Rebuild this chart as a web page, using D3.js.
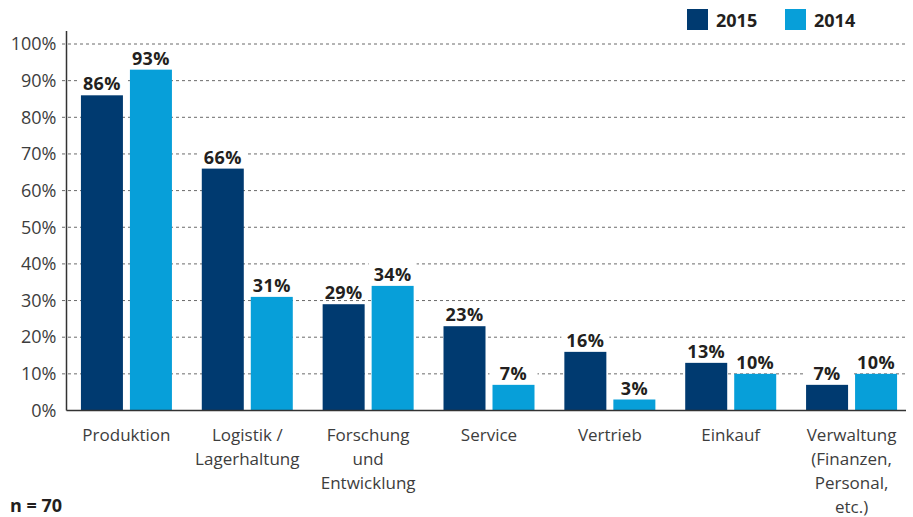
<!DOCTYPE html>
<html>
<head>
<meta charset="utf-8">
<script src="https://cdn.jsdelivr.net/npm/d3@7"></script>
<style>
  body { margin: 0; background: #fff; }
  svg { display: block; font-family: "Open Sans", sans-serif; }
</style>
</head>
<body>
<svg width="913" height="517"></svg>
<script>
const categories = ["Produktion", "Logistik /\nLagerhaltung", "Forschung\nund\nEntwicklung", "Service",
                    "Vertrieb", "Einkauf", "Verwaltung\n(Finanzen,\nPersonal,\netc.)"];
const years = ["2015", "2014"];
const values2015 = [86, 66, 29, 23, 16, 13, 7];
const values2014 = [93, 31, 34, 7, 3, 10, 10];
const yTicks = [0, 10, 20, 30, 40, 50, 60, 70, 80, 90, 100];
const sampleNote = "n = 70";

const colors = {"2015": "#003a70", "2014": "#079fd9"};

const svg = d3.select("svg");
const plotLeft = 66.5, plotRight = 906, plotBottom = 410.5, plotTop = 44;

const x0 = d3.scaleBand().domain(categories).range([66, 912]).padding(0);
const x1 = d3.scaleBand().domain(years).range([0, 91]).paddingInner(7 / 49).paddingOuter(0);
const y = d3.scaleLinear().domain([0, 100]).range([plotBottom, plotTop]);

// dashed gridlines
svg.append("g")
  .selectAll("line")
  .data(yTicks.filter(d => d > 0))
  .join("line")
  .attr("x1", 62).attr("x2", plotRight)
  .attr("y1", d => y(d)).attr("y2", d => y(d))
  .attr("stroke", "#6b6b6b")
  .attr("stroke-width", 1)
  .attr("stroke-dasharray", "3,3");

// y axis labels
const yAxis = svg.append("g")
  .attr("transform", "translate(" + plotLeft + ",0)")
  .call(d3.axisLeft(y).tickValues(yTicks).tickFormat(d => d + "%").tickSize(0).tickPadding(10));
yAxis.select(".domain").remove();
yAxis.selectAll("text")
  .attr("font-family", "Open Sans")
  .attr("font-size", 18)
  .attr("fill", "#3d3d3d");

// bars
const rows = categories.map((c, i) => ({cat: c, vals: [
  {year: "2015", v: values2015[i]},
  {year: "2014", v: values2014[i]}
]}));

const groups = svg.append("g")
  .selectAll("g")
  .data(rows)
  .join("g")
  .attr("transform", d => "translate(" + (x0(d.cat) + x0.bandwidth() / 2 - 45.5) + ",0)");

groups.selectAll("rect")
  .data(d => d.vals)
  .join("rect")
  .attr("x", d => x1(d.year))
  .attr("y", d => y(d.v))
  .attr("width", x1.bandwidth())
  .attr("height", d => y(0) - y(d.v))
  .attr("fill", d => colors[d.year]);

// value labels with white backing
const lab = groups.selectAll("g.lab")
  .data(d => d.vals)
  .join("g")
  .attr("class", "lab")
  .attr("transform", d => "translate(" + (x1(d.year) + x1.bandwidth() / 2) + "," + (y(d.v) - 5) + ")");

lab.append("rect")
  .attr("x", -24).attr("y", -18)
  .attr("width", 48).attr("height", 16)
  .attr("fill", "#fff");

lab.append("text")
  .attr("text-anchor", "middle")
  .attr("font-size", 18)
  .attr("font-weight", "bold")
  .attr("letter-spacing", 0.4)
  .attr("fill", "#231f20")
  .text(d => d.v + "%");

// axis lines
svg.append("line")
  .attr("x1", plotLeft).attr("x2", plotLeft).attr("y1", 31).attr("y2", plotBottom)
  .attr("stroke", "#333").attr("stroke-width", 1.5);
svg.append("line")
  .attr("x1", plotLeft).attr("x2", plotRight).attr("y1", plotBottom).attr("y2", plotBottom)
  .attr("stroke", "#333").attr("stroke-width", 1.5);

// category labels
const catText = svg.append("g")
  .selectAll("text")
  .data(categories)
  .join("text")
  .attr("text-anchor", "middle")
  .attr("font-size", 17)
  .attr("fill", "#3d3d3d")
  .attr("transform", d => "translate(" + (x0(d) + x0.bandwidth() / 2) + ",441)");

catText.selectAll("tspan")
  .data(d => d.split("\n"))
  .join("tspan")
  .attr("x", 0)
  .attr("y", (d, i) => i * 24)
  .text(d => d);

// legend
const legend = svg.append("g")
  .selectAll("g")
  .data(years)
  .join("g")
  .attr("transform", (d, i) => "translate(" + (687 + i * 98) + ",9)");
legend.append("rect")
  .attr("width", 21).attr("height", 21)
  .attr("fill", d => colors[d]);
legend.append("text")
  .attr("x", 29).attr("y", 18)
  .attr("font-size", 18)
  .attr("font-weight", "bold")
  .attr("fill", "#231f20")
  .text(d => d);

// sample size
svg.append("text")
  .attr("x", 10).attr("y", 512)
  .attr("font-size", 18)
  .attr("font-weight", "bold")
  .attr("fill", "#231f20")
  .text(sampleNote);
</script>
</body>
</html>
